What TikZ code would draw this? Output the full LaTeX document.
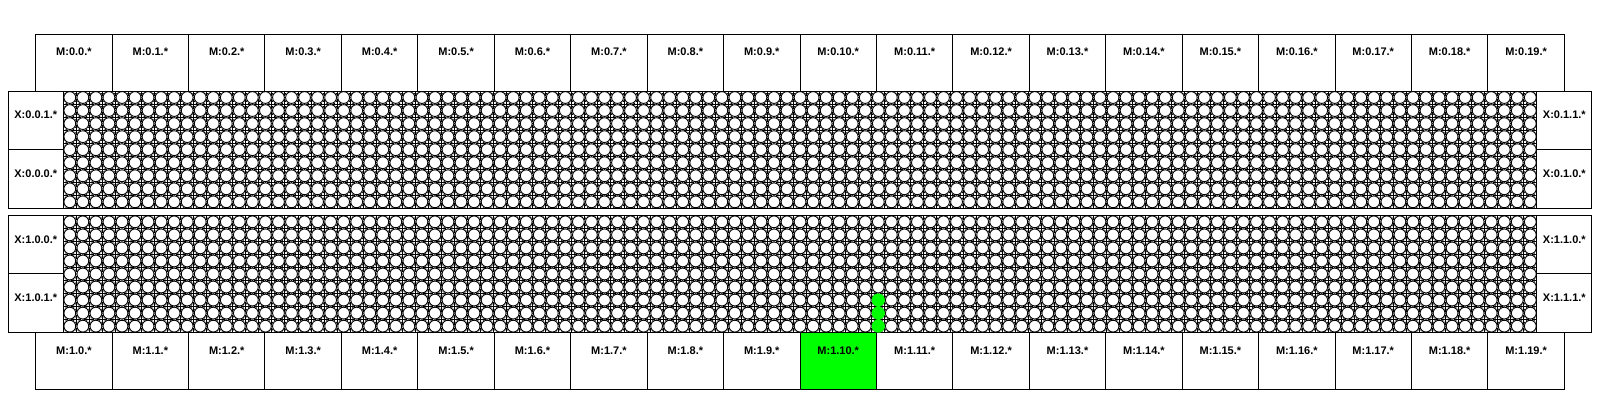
\documentclass[tikz,border=0pt]{standalone}
\usepackage{fontspec}
\setmainfont{Liberation Sans}
\usetikzlibrary{positioning}
\definecolor{litgreen}{RGB}{0,255,0}
\newcommand{\cellpitch}{13.04}

\begin{document}
\begin{tikzpicture}[x=1pt, y=-1pt,
    mbox/.style={draw, line width=1pt, minimum width=76.43pt, minimum height=57pt, inner sep=0pt, outer sep=0pt, anchor=north west},
    xbox/.style={draw, line width=1pt, minimum width=55pt, minimum height=58.68pt, inner sep=0pt, outer sep=0pt, anchor=north west},
    meshbox/.style={draw, line width=1pt, minimum width=1473.5pt, minimum height=117.36pt, inner sep=0pt, outer sep=0pt, anchor=north west},
    boxlabel/.style={font=\fontsize{11}{13}\selectfont\bfseries, inner sep=0pt},
    mesh/.style={line width=0.9pt}]
  \useasboundingbox (0,0) rectangle (1600,400);
  \foreach \i in {0,...,19} {
    \ifnum\i=10 \colorlet{mfill}{litgreen}\else\colorlet{mfill}{white}\fi
    \node[mbox] (mt\i) at ({35.7+76.43*\i},34) {};
    \node[boxlabel, below=14pt of mt\i.north] (mtl\i) {M:0.\i.*};
    \node[mbox, fill=mfill] (mb\i) at ({35.7+76.43*\i},332.66) {};
    \node[boxlabel, below=14pt of mb\i.north] (mbl\i) {M:1.\i.*};
  }
  \foreach \nm/\xx/\yy/\txt in {x001/8.3/91/X:0.0.1.*, x000/8.3/149.68/X:0.0.0.*,
      x011/1536.8/91/X:0.1.1.*, x010/1536.8/149.68/X:0.1.0.*,
      x100/8.3/215.3/X:1.0.0.*, x101/8.3/273.98/X:1.0.1.*,
      x110/1536.8/215.3/X:1.1.0.*, x111/1536.8/273.98/X:1.1.1.*} {
    \node[xbox] (\nm) at (\xx,\yy) {};
    \node[boxlabel, below=20pt of \nm.north] (\nm l) {\txt};
  }
  \foreach \top/\nm in {91/meshtop, 215.3/meshbot} {
    \node[meshbox] (\nm) at (63.3,\top) {};
    \begin{scope}
      \clip (\nm.north west) rectangle (\nm.south east);
      \draw[mesh] \foreach \c in {0,...,112} { \foreach \r in {0,...,8} {
        ({63.3+\cellpitch*(\c+0.5)},{\top+\cellpitch*(\r+0.5)}) circle[radius=5.9pt] } };
      \draw[line width=1pt] \foreach \c in {0,...,113} { \foreach \r in {0,...,9} {
        ({63.3+\cellpitch*\c-5},{\top+\cellpitch*\r}) -- ({63.3+\cellpitch*\c+5},{\top+\cellpitch*\r})
        ({63.3+\cellpitch*\c},{\top+\cellpitch*\r-5}) -- ({63.3+\cellpitch*\c},{\top+\cellpitch*\r+5}) } };
      \fill \foreach \c in {0,...,113} { \foreach \r in {0,...,9} {
        [shift={({63.3+\cellpitch*\c},{\top+\cellpitch*\r})}]
        (2.2,-1.4) -- (4.6,0) -- (2.2,1.4) -- cycle
        (-2.2,-1.4) -- (-4.6,0) -- (-2.2,1.4) -- cycle
        (-1.4,2.2) -- (0,4.6) -- (1.4,2.2) -- cycle
        (-1.4,-2.2) -- (0,-4.6) -- (1.4,-2.2) -- cycle } };
    \end{scope}
    \node[meshbox] at (63.3,\top) {};
  }
  \fill[litgreen] \foreach \r in {6,7,8} { ({63.3+\cellpitch*62.5},{215.3+\cellpitch*(\r+0.5)}) circle[radius=6.6pt] };
\end{tikzpicture}
\end{document}
